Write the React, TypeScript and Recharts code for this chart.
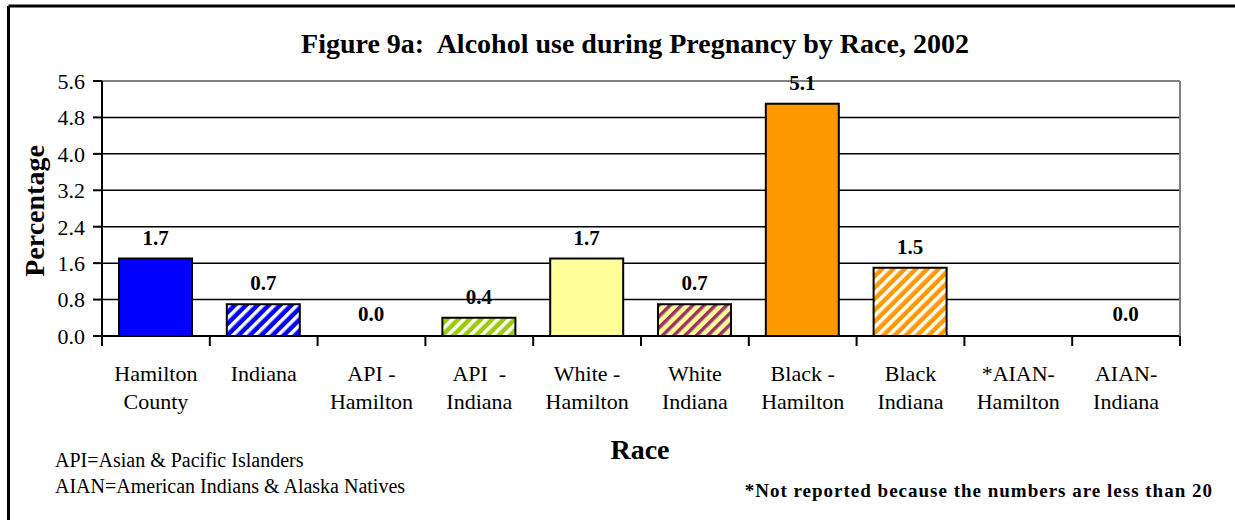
import { BarChart, Bar, XAxis, YAxis, CartesianGrid, ReferenceLine, LabelList, Cell } from 'recharts'

// tick labels on the category axis (two lines each)
const categories = [
  'Hamilton\nCounty',
  'Indiana',
  'API -\nHamilton',
  'API  -\nIndiana',
  'White -\nHamilton',
  'White\nIndiana',
  'Black -\nHamilton',
  'Black\nIndiana',
  '*AIAN-\nHamilton',
  'AIAN-\nIndiana',
]

// percentage, null = not reported
const values: (number | null)[] = [1.7, 0.7, 0.0, 0.4, 1.7, 0.7, 5.1, 1.5, null, 0.0]

const yTicks = [0, 0.8, 1.6, 2.4, 3.2, 4.0, 4.8, 5.6]
const gridValues = [0.8, 1.6, 2.4, 3.2, 4.0, 4.8]

const fills = [
  '#0000FF',
  'url(#stripeBlue)',
  '#0000FF',
  'url(#stripeGreen)',
  '#FFFF99',
  'url(#stripeYellow)',
  '#FF9900',
  'url(#stripeOrange)',
  '#999999',
  '#999999',
]

const serif = '"Liberation Serif", "Times New Roman", serif'

const data = categories.map((name, i) => ({ name, value: values[i] }))

// category label plus Excel-style tick marks on the band edges
function CategoryTick(props: any) {
  const { x, y, payload, index, width, visibleTicksCount } = props
  const half = payload.offset ?? width / visibleTicksCount / 2
  const lines = String(payload.value).split('\n')
  const last = index === visibleTicksCount - 1
  return (
    <g>
      <line x1={x - half} y1={y} x2={x - half} y2={y + 10} stroke="#000" strokeWidth={2} />
      {last && <line x1={x + half} y1={y} x2={x + half} y2={y + 10} stroke="#000" strokeWidth={2} />}
      <text x={x} y={y} textAnchor="middle" fontFamily={serif} fontSize={22} fill="#000" style={{ whiteSpace: 'pre' }}>
        {lines.map((l, i) => (
          <tspan key={i} x={x} y={y + 45 + i * 28}>
            {l}
          </tspan>
        ))}
      </text>
    </g>
  )
}

function Stripe({ id, bg, fg }: { id: string; bg: string; fg: string }) {
  return (
    <pattern id={id} patternUnits="userSpaceOnUse" width="8" height="8" patternTransform="rotate(45)">
      <rect width="8" height="8" fill={bg} />
      <rect width="3.5" height="8" fill={fg} />
    </pattern>
  )
}

export default function App() {
  return (
    <div style={{ position: 'absolute', left: 0, top: 0, width: 1235, height: 520, background: '#fff' }}>
      <svg width="0" height="0" style={{ position: 'absolute' }}>
        <defs>
          <Stripe id="stripeBlue" bg="#0000FF" fg="#FFFFFF" />
          <Stripe id="stripeGreen" bg="#99CC00" fg="#FFFFFF" />
          <Stripe id="stripeYellow" bg="#FFFF99" fg="#993366" />
          <Stripe id="stripeOrange" bg="#FF9900" fg="#FFFFFF" />
        </defs>
      </svg>

      <BarChart
        width={1235}
        height={520}
        data={data}
        margin={{ top: 81, right: 54, left: 52, bottom: 94 }}
        style={{ position: 'absolute', left: 0, top: 0 }}
      >
        <CartesianGrid
          yAxisId="left"
          vertical={false}
          horizontalValues={gridValues}
          stroke="#000"
          strokeWidth={1.5}
        />
        <XAxis
          dataKey="name"
          height={90}
          axisLine={{ stroke: '#000', strokeWidth: 2 }}
          tickLine={false}
          tickSize={0}
          tickMargin={0}
          interval={0}
          tick={<CategoryTick />}
        />
        <YAxis
          yAxisId="left"
          domain={[0, 5.6]}
          ticks={yTicks}
          width={50}
          tickSize={9}
          tickMargin={8}
          interval={0}
          tickFormatter={(v: number) => v.toFixed(1)}
          tick={{ fontFamily: serif, fontSize: 22, fill: '#000' }}
          axisLine={{ stroke: '#000', strokeWidth: 2 }}
          tickLine={{ stroke: '#000', strokeWidth: 2 }}
        />
        <YAxis
          yAxisId="right"
          orientation="right"
          domain={[0, 5.6]}
          width={1}
          tick={false}
          tickLine={false}
          axisLine={{ stroke: '#808080', strokeWidth: 2 }}
        />
        <ReferenceLine yAxisId="left" y={5.6} stroke="#808080" strokeWidth={2} />
        <Bar
          yAxisId="left"
          dataKey="value"
          barSize={73}
          strokeWidth={2}
          minPointSize={(v: any) => (v === 0 ? 1 : 0)}
          isAnimationActive={false}
        >
          {data.map((d, i) => (
            <Cell key={d.name} fill={fills[i]} stroke={d.value === 0 ? 'none' : '#000'} />
          ))}
          <LabelList
            dataKey="value"
            position="top"
            offset={14}
            formatter={(v: any) => (v === null || v === undefined ? '' : Number(v).toFixed(1))}
            style={{ fontFamily: serif, fontSize: 21, fontWeight: 'bold', fill: '#000' }}
          />
        </Bar>
      </BarChart>

      <svg
        width={1235}
        height={520}
        style={{ position: 'absolute', left: 0, top: 0, pointerEvents: 'none' }}
        fontFamily={serif}
      >
        <line x1={8.5} y1={6} x2={1235} y2={6} stroke="#000" strokeWidth={3} />
        <line x1={8.5} y1={6} x2={8.5} y2={520} stroke="#000" strokeWidth={3} />
        <text x={635} y={53} textAnchor="middle" fontSize={28} fontWeight="bold" style={{ whiteSpace: 'pre' }}>
          {'Figure 9a:  Alcohol use during Pregnancy by Race, 2002'}
        </text>
        <text
          x={44}
          y={211}
          textAnchor="middle"
          fontSize={28}
          fontWeight="bold"
          transform="rotate(-90 44 211)"
        >
          Percentage
        </text>
        <text x={640} y={459} textAnchor="middle" fontSize={28} fontWeight="bold">
          Race
        </text>
        <text x={55} y={467} fontSize={20}>
          API=Asian &amp; Pacific Islanders
        </text>
        <text x={55} y={493} fontSize={20}>
          AIAN=American Indians &amp; Alaska Natives
        </text>
        <text x={1213} y={497} textAnchor="end" fontSize={19} fontWeight="bold" letterSpacing={1}>
          *Not reported because the numbers are less than 20
        </text>
      </svg>
    </div>
  )
}
